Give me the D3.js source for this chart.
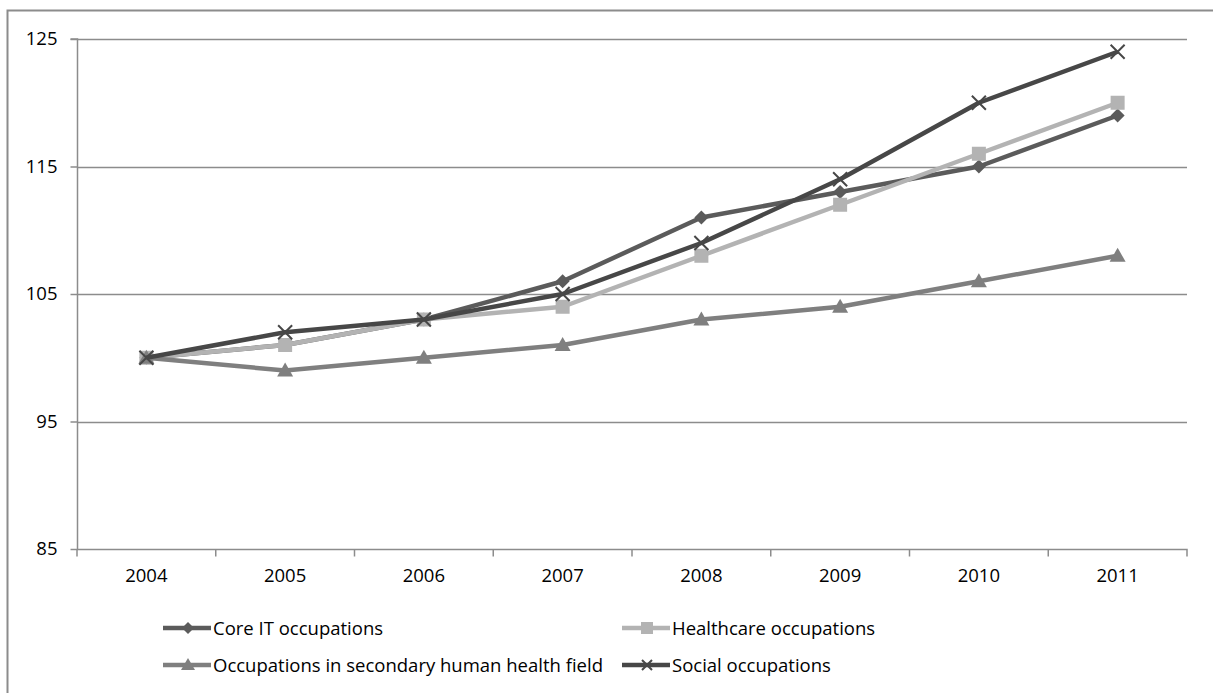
<!DOCTYPE html>
<html><head><meta charset="utf-8">
<script src="https://cdn.jsdelivr.net/npm/d3@7"></script>
<style>
html,body{margin:0;padding:0;background:#fff;overflow:hidden;}
svg{display:block;font-family:"Open Sans",sans-serif;}
</style></head>
<body>
<script>
const titleText = "Employment development by selected occupations (2004=100)";
const years = ["2004","2005","2006","2007","2008","2009","2010","2011"];
const yTicks = [85, 95, 105, 115, 125];
const seriesNames = ["Core IT occupations","Healthcare occupations","Occupations in secondary human health field","Social occupations"];
const coreIT =     [100, 101, 103, 106, 111, 113, 115, 119];
const healthcare = [100, 101, 103, 104, 108, 112, 116, 120];
const secondary =  [100,  99, 100, 101, 103, 104, 106, 108];
const social =     [100, 102, 103, 105, 109, 114, 120, 124];

const W = 1213, H = 693;
const FONT = "'Open Sans',sans-serif";
const FS = 18.5;
const svg = d3.select("body").append("svg").attr("width", W).attr("height", H);

const series = [
  {name: seriesNames[0], values: coreIT, color: "#5b5b5b", marker: "diamond"},
  {name: seriesNames[1], values: healthcare, color: "#b3b3b3", marker: "square"},
  {name: seriesNames[2], values: secondary, color: "#7f7f7f", marker: "triangle"},
  {name: seriesNames[3], values: social, color: "#474747", marker: "x"}
];

// title (cut off by the top edge, as in the reference)
svg.append("text").attr("x", 27).attr("y", -4)
  .attr("font-size", 24).attr("font-weight", "bold").attr("fill", "#000")
  .attr("font-family", "Lato,sans-serif")
  .attr("textLength", 818).attr("lengthAdjust", "spacingAndGlyphs")
  .text(titleText);

// outer frame
svg.append("path").attr("d", `M7.5,${H+2} V10.5 H${W+2}`)
  .attr("fill", "none").attr("stroke", "#8c8c8c").attr("stroke-width", 2);

const plot = {left: 77, right: 1187, top: 39, bottom: 549};
const x = d3.scaleBand().domain(years).range([plot.left, plot.right]);
const y = d3.scaleLinear().domain([85, 125]).range([plot.bottom, plot.top]);

// gridlines
svg.append("g").selectAll("line").data(yTicks.filter(d => d !== 85)).join("line")
  .attr("x1", plot.left).attr("x2", plot.right)
  .attr("y1", d => Math.round(y(d)) + 0.5).attr("y2", d => Math.round(y(d)) + 0.5)
  .attr("stroke", "#8c8c8c").attr("stroke-width", 1.5);

// y axis
const yAxis = d3.axisLeft(y).tickValues(yTicks).tickSize(7).tickPadding(13).tickFormat(d3.format("d"));
const ya = svg.append("g").attr("transform", `translate(${plot.left + 0.5},0)`).call(yAxis);
ya.select(".domain").attr("stroke", "#8c8c8c").attr("stroke-width", 1.5).attr("d", `M-7,${plot.top}H0V${plot.bottom}`);
ya.selectAll(".tick line").attr("stroke", "#8c8c8c").attr("stroke-width", 1.5);
ya.selectAll(".tick text").attr("font-size", FS).attr("fill", "#000").attr("font-family", FONT);

// x axis
const xa = svg.append("g").attr("transform", `translate(0,${Math.round(y(85)) + 0.5})`)
  .call(d3.axisBottom(x).tickSize(0).tickPadding(19));
xa.select(".domain").attr("stroke", "#8c8c8c").attr("stroke-width", 1.5).attr("d", `M${plot.left},0H${plot.right}V7`);
xa.selectAll(".tick text").attr("font-size", FS).attr("fill", "#000").attr("font-family", FONT);
xa.selectAll("line.bt").data(years.map(d => x(d))).join("line").attr("class","bt")
  .attr("x1", d => d).attr("x2", d => d).attr("y1", 0).attr("y2", 7)
  .attr("stroke", "#8c8c8c").attr("stroke-width", 1.5);

const cx = d => x(d) + x.bandwidth() / 2;

function drawMarker(sel, type, color, px, py, s) {
  if (type === "diamond") {
    sel.append("path").attr("d", `M${px},${py - s}L${px + s},${py}L${px},${py + s}L${px - s},${py}Z`).attr("fill", color);
  } else if (type === "square") {
    sel.append("rect").attr("x", px - s).attr("y", py - s).attr("width", 2 * s).attr("height", 2 * s).attr("fill", color);
  } else if (type === "triangle") {
    sel.append("path").attr("d", `M${px},${py - s - 1}L${px + s + 1},${py + s - 1}L${px - s - 1},${py + s - 1}Z`).attr("fill", color);
  } else if (type === "x") {
    sel.append("path").attr("d", `M${px - s},${py - s}L${px + s},${py + s}M${px - s},${py + s}L${px + s},${py - s}`)
      .attr("stroke", color).attr("stroke-width", 2).attr("fill", "none");
  }
}

const line = d3.line().x((d, i) => cx(years[i])).y(d => y(d));
series.forEach(s => {
  const sg = svg.append("g");
  sg.append("path").datum(s.values).attr("d", line)
    .attr("fill", "none").attr("stroke", s.color).attr("stroke-width", 4.5).attr("stroke-linejoin", "round");
  s.values.forEach((v, i) => drawMarker(sg, s.marker, s.color, cx(years[i]), y(v), 7));
});

// legend
const legendPos = [
  {x: 163, y: 628}, {x: 622, y: 628},
  {x: 163, y: 665}, {x: 622, y: 665}
];
series.forEach((s, i) => {
  const p = legendPos[i];
  const lg = svg.append("g");
  lg.append("line").attr("x1", p.x).attr("x2", p.x + 48).attr("y1", p.y).attr("y2", p.y)
    .attr("stroke", s.color).attr("stroke-width", 4.5);
  drawMarker(lg, s.marker, s.color, p.x + 25, p.y, s.marker === "x" ? 5 : 6);
  lg.append("text").attr("x", p.x + 50).attr("y", p.y + 7)
    .attr("font-size", FS).attr("font-family", FONT).attr("fill", "#000").text(s.name);
});
</script>
</body></html>
